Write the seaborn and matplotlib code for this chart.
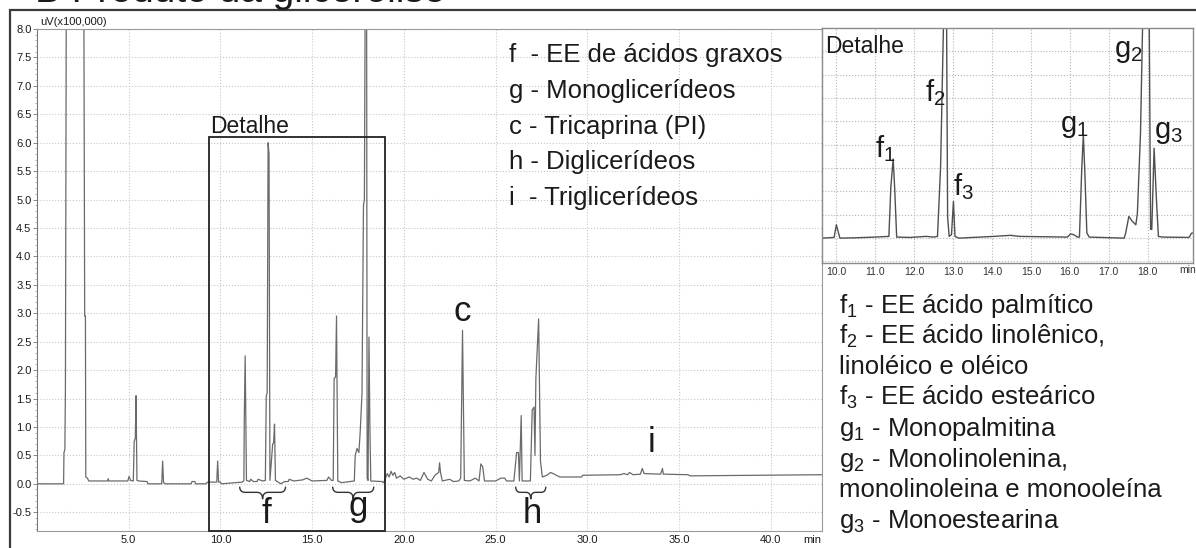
import numpy as np
import matplotlib
matplotlib.use("Agg")
import matplotlib.pyplot as plt
from matplotlib.patches import Rectangle, PathPatch
from matplotlib.path import Path
from matplotlib.ticker import MultipleLocator
import seaborn as sns

# ---------------- data ----------------
main_time = [
    0.0, 1.45, 1.47, 1.52, 1.55, 1.60, 2.55, 2.60, 2.64, 2.66, 2.75, 2.82, 3.2,
    3.85, 3.88, 3.92, 4.95, 5.02, 5.10, 5.25, 5.30, 5.36, 5.40, 5.45, 5.55, 6.0,
    6.05, 6.8, 6.85, 6.9, 7.0, 8.4, 8.45, 8.6, 8.65, 9.2, 9.3, 9.8, 9.85, 9.9,
    10.0, 10.05, 11.2, 11.28, 11.30, 11.35, 11.42, 11.6, 11.65, 11.8, 12.0,
    12.05, 12.3, 12.45, 12.50, 12.55, 12.60, 12.65, 12.70, 12.85, 12.90, 12.95,
    13.0, 13.3, 13.5, 13.7, 13.75, 14.0, 14.5, 14.7, 15.0, 15.8, 15.9, 16.05,
    16.15, 16.20, 16.28, 16.33, 16.40, 16.6, 17.3, 17.35, 17.45, 17.55, 17.62,
    17.72, 17.80, 17.85, 17.90, 17.97, 18.00, 18.05, 18.10, 18.15, 18.20, 18.8,
    18.9, 19.0, 19.1, 19.2, 19.3, 19.4, 19.5, 19.6, 19.8, 20.0, 20.3, 20.5,
    20.7, 20.9, 21.1, 21.3, 21.5, 21.7, 21.9, 21.95, 22.0, 22.1, 22.5, 22.7,
    23.0, 23.1, 23.2, 23.3, 23.6, 23.9, 24.1, 24.2, 24.3, 24.4, 25.0, 25.3,
    25.5, 25.6, 26.0, 26.15, 26.25, 26.3, 26.4, 26.45, 26.9, 27.0, 27.1, 27.15,
    27.2, 27.35, 27.45, 27.55, 27.8, 28.0, 28.2, 28.5, 29.7, 29.75, 31.8, 32.0,
    32.2, 32.3, 32.5, 32.9, 33.0, 33.1, 34.0, 34.1, 34.15, 35.5, 35.6, 42.8,
]
main_signal = [
    0.0, 0.0, 0.55, 0.60, 1.70, 9.0, 9.0, 2.95, 2.95, 0.12, 0.10, 0.05, 0.05,
    0.05, 0.09, 0.05, 0.05, 0.13, 0.06, 0.05, 0.75, 0.80, 1.55, 0.06, 0.05, 0.04,
    0.0, 0.0, 0.40, 0.02, 0.0, 0.0, 0.04, 0.04, 0.0, 0.0, 0.03, 0.03, 0.40, 0.03,
    0.03, 0.0, 0.03, 0.06, 1.10, 2.25, 0.06, 0.04, 0.08, 0.04, 0.04,
    0.08, 0.05, 0.06, 1.55, 1.60, 6.00, 5.80, 0.06, 0.70, 0.72, 1.05,
    0.06, 0.0, 0.04, 0.04, 0.08, 0.05, 0.07, 0.10, 0.05, 0.06, 0.12, 0.06,
    0.06, 1.85, 1.88, 2.95, 0.05, 0.02, 0.05, 0.50, 0.62, 0.55, 0.90,
    1.60, 4.90, 5.00, 9.0, 9.0, 0.10, 0.06, 2.58, 1.00, 0.05, 0.04,
    0.02, 0.10, 0.18, 0.12, 0.22, 0.15, 0.20, 0.10, 0.14, 0.08, 0.12, 0.08,
    0.10, 0.06, 0.20, 0.08, 0.05, 0.15, 0.20, 0.37, 0.20, 0.05, 0.08, 0.04,
    0.05, 0.10, 2.70, 0.06, 0.05, 0.10, 0.05, 0.35, 0.30, 0.05, 0.05, 0.10,
    0.10, 0.05, 0.05, 0.55, 0.55, 0.05, 1.20, 0.05, 0.05, 1.30, 1.35, 0.50,
    1.85, 2.90, 0.40, 0.12, 0.15, 0.20, 0.17, 0.12, 0.12, 0.15, 0.16, 0.18,
    0.16, 0.20, 0.16, 0.17, 0.27, 0.18, 0.17, 0.27, 0.17, 0.16, 0.14, 0.16,
]

inset_time = [
    9.62, 9.8, 9.94, 10.0, 10.09, 10.5, 11.0, 11.35, 11.40, 11.46, 11.50, 11.55,
    11.9, 12.3, 12.5, 12.6, 12.68, 12.77, 12.83, 12.86, 12.9, 12.96, 13.01,
    13.05, 13.15, 14.05, 14.48, 14.7, 15.94, 16.02, 16.1, 16.2, 16.25, 16.31,
    16.35, 16.39, 16.44, 16.5, 17.4, 17.44, 17.52, 17.61, 17.70, 17.74, 17.82,
    17.89, 18.04, 18.08, 18.11, 18.17, 18.23, 18.28, 18.38, 19.07, 19.13, 19.2,
]
inset_signal = [
    0.0, 0.01, 0.02, 0.38, 0.0, 0.01, 0.03, 0.05, 1.45, 2.26, 1.40, 0.03,
    0.02, 0.05, 0.03, 0.05, 2.05, 7.0, 7.0, 0.60, 0.05, 0.10, 1.05,
    0.05, 0.0, 0.05, 0.08, 0.05, 0.03, 0.12, 0.10, 0.03, 0.03, 2.00,
    2.95, 1.85, 0.15, 0.03, 0.0, 0.15, 0.62, 0.48, 0.38, 0.71, 3.00,
    7.0, 7.0, 0.25, 0.25, 2.57, 1.10, 0.05, 0.03, 0.02, 0.14, 0.15,
]

main_xticks = [5.0, 10.0, 15.0, 20.0, 25.0, 30.0, 35.0, 40.0]
main_yticks = [-0.5, 0.0, 0.5, 1.0, 1.5, 2.0, 2.5, 3.0, 3.5, 4.0, 4.5, 5.0,
               5.5, 6.0, 6.5, 7.0, 7.5, 8.0]
inset_xticks = [10.0, 11.0, 12.0, 13.0, 14.0, 15.0, 16.0, 17.0, 18.0]

legend_main = ["f  - EE de ácidos graxos", "g - Monoglicerídeos",
               "c - Tricaprina (PI)", "h - Diglicerídeos", "i  - Triglicerídeos"]
legend_detail = [r"f$_{1}$ - EE ácido palmítico",
                 r"f$_{2}$ - EE ácido linolênico,",
                 "linoléico e oléico",
                 r"f$_{3}$ - EE ácido esteárico",
                 r"g$_{1}$ - Monopalmitina",
                 r"g$_{2}$ - Monolinolenina,",
                 "monolinoleina e monooleína",
                 r"g$_{3}$ - Monoestearina"]

# ---------------- style ----------------
sns.set_theme(style="white")
plt.rcParams["font.family"] = ["Liberation Sans", "DejaVu Sans"]
plt.rcParams["mathtext.fontset"] = "custom"
plt.rcParams["mathtext.rm"] = "Liberation Sans"
plt.rcParams["mathtext.it"] = "Liberation Sans:italic"
plt.rcParams["mathtext.bf"] = "Liberation Sans:bold"

W, H = 1196, 548
fig = plt.figure(figsize=(W / 100, H / 100), dpi=100)
fig.patch.set_facecolor("white")


def px_axes(l, t, r, b, **kw):
    return fig.add_axes([l / W, 1 - b / H, (r - l) / W, (b - t) / H], **kw)


TXT = "#1a1a1a"

# ---------------- main chromatogram ----------------
ax = px_axes(37, 29, 822, 531)
sns.lineplot(x=main_time, y=main_signal, ax=ax, sort=False, estimator=None,
             color="#6a6a6a", lw=0.9)
ax.set_xlim(0, 42.8)
ax.set_ylim(-0.83, 8.0)
ax.set_xticks(main_xticks)
ax.set_xticklabels([f"{v:.1f}" for v in main_xticks])
ax.set_yticks(main_yticks)
ax.set_yticklabels([f"{v:.1f}" for v in main_yticks])
ax.yaxis.set_minor_locator(MultipleLocator(0.1))
ax.tick_params(axis="x", length=0, pad=3, labelsize=8, labelcolor=TXT)
ax.tick_params(axis="y", which="major", length=3, width=0.6, color="#777",
               pad=1, labelsize=8, labelcolor=TXT, direction="out", left=True)
ax.tick_params(axis="y", which="minor", length=1.8, width=0.5, color="#999",
               direction="out", left=True)
ax.set_xlabel("")
ax.set_ylabel("")
ax.grid(True, which="major", ls=":", color="#c8c8c8", lw=0.8)
for side, sp in ax.spines.items():
    sp.set_color("#9a9a9a")
    sp.set_linewidth(0.8)
ax.spines["left"].set_color("#777")

# detail box
ax.add_patch(Rectangle((9.37, -0.83), 18.96 - 9.37, 6.1 + 0.83, fill=False,
                       ec="#222", lw=1.3, clip_on=False, zorder=5))
ax.text(9.45, 6.17, "Detalhe", fontsize=16.5, color=TXT, va="baseline",
        ha="left")


def brace(axis, x0, x1, ytop, ymid, ytip, q=0.3):
    xm = (x0 + x1) / 2
    verts = [(x0, ytop), (x0, ymid), (x0 + q, ymid),
             (xm - q, ymid), (xm, ymid), (xm, ytip),
             (xm, ymid), (xm + q, ymid),
             (x1 - q, ymid), (x1, ymid), (x1, ytop)]
    codes = [Path.MOVETO, Path.CURVE3, Path.CURVE3,
             Path.LINETO, Path.CURVE3, Path.CURVE3,
             Path.CURVE3, Path.CURVE3,
             Path.LINETO, Path.CURVE3, Path.CURVE3]
    axis.add_patch(PathPatch(Path(verts, codes), fill=False, ec="#333",
                             lw=1.0, zorder=6))


brace(ax, 11.05, 13.55, -0.05, -0.15, -0.27)
brace(ax, 16.12, 18.36, -0.05, -0.15, -0.27)
brace(ax, 26.1, 27.74, -0.05, -0.15, -0.27, q=0.25)

big = dict(fontsize=25, color=TXT, ha="center", va="baseline")
ax.text(12.5, -0.69, "f", **big)
ax.text(17.5, -0.56, "g", **big)
ax.text(27.0, -0.69, "h", **big)
ax.text(23.2, 2.86, "c", **big)
ax.text(33.5, 0.56, "i", **big)

fig.text(40 / W, 1 - 22 / H, "uV(x100,000)", fontsize=8, color=TXT,
         va="center", ha="left")
fig.text(812 / W, 1 - 540 / H, "min", fontsize=8, color=TXT,
         va="center", ha="center")

# legend (main)
for i, s in enumerate(legend_main):
    fig.text(509 / W, 1 - (62 + 35.8 * i) / H, s, fontsize=18.5, color=TXT,
             va="baseline", ha="left")

# ---------------- inset (detail) ----------------
axi = px_axes(822, 28, 1193, 263)
axi.set_facecolor("white")
sns.lineplot(x=inset_time, y=inset_signal, ax=axi, sort=False,
             estimator=None, color="#505050", lw=1.0)
axi.set_xlim(9.63, 19.17)
axi.set_ylim(-0.71, 6.0)
axi.set_xticks(inset_xticks)
axi.set_xticklabels([f"{v:.1f}" for v in inset_xticks])
axi.set_yticks([k * 0.667 for k in range(-1, 9)])
axi.set_yticklabels([])
axi.tick_params(axis="both", length=0, pad=3, labelsize=7.5, labelcolor="#333")
axi.set_xlabel("")
axi.set_ylabel("")
axi.grid(True, ls=":", color="#b5b5b5", lw=0.8)
for sp in axi.spines.values():
    sp.set_color("#8a8a8a")
    sp.set_linewidth(1.0)
axi.text(9.72, 5.29, "Detalhe", fontsize=16.5, color=TXT, va="baseline",
         ha="left")
lab = dict(fontsize=21, color=TXT, va="baseline", ha="left")
axi.text(10.99, 2.32, r"f$_{1}$", **lab)
axi.text(12.27, 3.90, r"f$_{2}$", **lab)
axi.text(12.99, 1.23, r"f$_{3}$", **lab)
axi.text(15.74, 3.04, r"g$_{1}$", **lab)
axi.text(17.15, 5.18, r"g$_{2}$", **lab)
axi.text(18.18, 2.86, r"g$_{3}$", **lab)
fig.text(1188 / W, 1 - 270 / H, "min", fontsize=7.5, color="#333",
         va="center", ha="center")

# legend (detail)
for i, s in enumerate(legend_detail):
    fig.text(839 / W, 1 - (313 + 30.7 * i) / H, s, fontsize=18.5, color=TXT,
             va="baseline", ha="left")

# ---------------- outer frame and (cropped) title ----------------
fig.add_artist(Rectangle((10 / W, -0.05), 1.2, 1 - 10 / H + 0.05,
                         transform=fig.transFigure, fill=False, ec="#3a3a3a",
                         lw=1.6))
fig.text(35 / W, 1 - 2.5 / H, "B Produto da glicerólise", fontsize=28,
         color=TXT, va="baseline", ha="left")

fig.savefig("out.png", dpi=100, facecolor="white")
